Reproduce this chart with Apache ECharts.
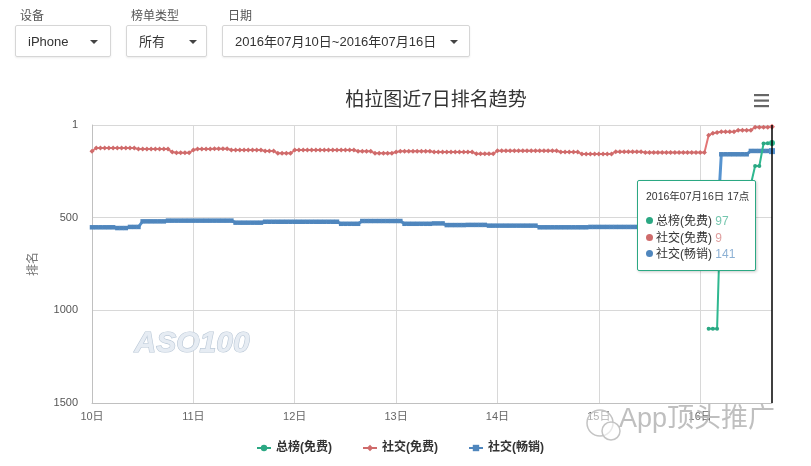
<!DOCTYPE html>
<html><head><meta charset="utf-8">
<script src="https://cdn.jsdelivr.net/npm/echarts@6/dist/echarts.min.js"></script>
<style>
html,body{margin:0;padding:0;background:#fff;}
#wrap{position:relative;width:811px;height:466px;overflow:hidden;font-family:"Liberation Sans","Noto Sans CJK SC",sans-serif;}
#chart{position:absolute;left:0;top:0;width:811px;height:466px;}
.lbl{position:absolute;font-size:12px;color:#555;top:6px;}
.box{position:absolute;top:25px;height:32px;border:1px solid #d6d6d6;border-radius:2px;box-shadow:0 1px 2px rgba(0,0,0,0.08);background:#fff;font-size:13px;color:#333;line-height:32px;box-sizing:border-box;}
.box span{position:absolute;left:12px;top:0;}
.caret{position:absolute;top:14px;width:0;height:0;border-left:4px solid transparent;border-right:4px solid transparent;border-top:4px solid #444;}
</style></head>
<body>
<div id="wrap">
<div id="chart"></div>
<div class="lbl" style="left:20px">设备</div>
<div class="lbl" style="left:131px">榜单类型</div>
<div class="lbl" style="left:228px">日期</div>
<div class="box" style="left:15px;width:96px"><span>iPhone</span><i class="caret" style="left:74px"></i></div>
<div class="box" style="left:126px;width:81px"><span>所有</span><i class="caret" style="left:62px"></i></div>
<div class="box" style="left:222px;width:248px"><span>2016年07月10日~2016年07月16日</span><i class="caret" style="left:227px"></i></div>
</div>
<script>
const chartTitle = '柏拉图近7日排名趋势';
const dates = ['2016年07月10日','2016年07月11日','2016年07月12日','2016年07月13日','2016年07月14日','2016年07月15日','2016年07月16日'];
const lastHour = 17;
const seriesNames = ['总榜(免费)','社交(免费)','社交(畅销)'];
const yTicks = [0, 500, 1000, 1500];

// 总榜(免费) hourly rank
const totalFree = [
null,null,null,null,null,null,null,null,null,null,null,null,null,null,null,null,null,null,null,null,null,null,null,null,
null,null,null,null,null,null,null,null,null,null,null,null,null,null,null,null,null,null,null,null,null,null,null,null,
null,null,null,null,null,null,null,null,null,null,null,null,null,null,null,null,null,null,null,null,null,null,null,null,
null,null,null,null,null,null,null,null,null,null,null,null,null,null,null,null,null,null,null,null,null,null,null,null,
null,null,null,null,null,null,null,null,null,null,null,null,null,null,null,null,null,null,null,null,null,null,null,null,
null,null,null,null,null,null,null,null,null,null,null,null,null,null,null,null,null,null,null,null,null,null,null,null,
null,null,1100,1100,1100,320,320,320,320,320,320,320,320,221,221,100,98,97
];
// 社交(免费) hourly rank
const socialFree = [
142,124,124,124,124,124,124,124,124,124,124,130,130,130,130,130,130,130,130,146,150,150,150,150,
135,130,130,130,130,128,128,128,128,135,135,135,135,135,135,135,135,140,140,140,153,153,153,153,
135,135,135,135,135,135,135,135,135,135,135,135,135,135,135,142,142,142,142,152,152,152,152,152,
146,142,142,142,142,142,142,142,142,146,146,146,146,146,146,146,146,146,146,155,155,155,155,155,
139,139,139,139,139,139,139,139,139,139,139,139,139,139,139,146,146,146,146,146,156,156,156,156,
156,156,156,156,144,144,144,144,144,144,144,149,149,149,149,149,149,149,149,149,149,149,149,149,
149,149,55,45,40,36,36,36,36,28,28,28,28,12,12,12,12,9
];
// 社交(畅销) hourly rank
const socialGrossing = [
552,552,552,552,552,552,556,556,556,550,550,550,520,520,520,520,520,520,516,516,516,516,516,516,
516,516,516,516,516,516,516,516,516,516,527,527,527,527,527,527,527,522,522,522,522,522,522,522,
522,522,522,522,522,522,522,522,522,522,522,533,533,533,533,533,518,518,518,518,518,518,518,518,
518,518,533,533,533,533,533,533,533,531,531,531,540,540,540,540,540,539,539,539,539,539,543,543,
543,543,543,543,543,543,543,543,543,543,552,552,552,552,552,552,552,552,552,552,552,552,550,550,
550,550,550,550,550,550,550,550,550,550,553,553,553,553,553,553,553,553,553,553,553,553,553,553,
553,553,553,553,553,158,158,158,158,158,158,158,140,140,140,140,140,141
];

const categories = [];
dates.forEach((d, i) => {
  const maxH = i === dates.length - 1 ? lastHour : 23;
  for (let h = 0; h <= maxH; h++) categories.push(d + ' ' + h + '点');
});

const colors = ['#2ba883', '#cf6b6b', '#4f86bd'];
const font = '"Liberation Sans","Noto Sans CJK SC",sans-serif';

const chart = echarts.init(document.getElementById('chart'));
chart.setOption({
  animation: false,
  backgroundColor: '#fff',
  color: colors,
  textStyle: { fontFamily: font },
  title: {
    text: chartTitle, left: 431, top: 86, textAlign: 'center',
    textStyle: { fontSize: 19, fontWeight: 'normal', color: '#333', fontFamily: font }
  },
  grid: { left: 92, right: 39, top: 125, bottom: 63 },
  legend: {
    data: seriesNames, bottom: 7, left: 251, itemWidth: 14, itemHeight: 8, itemGap: 30,
    textStyle: { fontSize: 12, fontWeight: 'bold', color: '#333' }
  },
  tooltip: {
    trigger: 'axis', alwaysShowContent: true, transitionDuration: 0,
    position: [637, 180],
    backgroundColor: '#fff', borderColor: '#2ba883', borderWidth: 1, padding: [8, 8, 7, 8],
    extraCssText: 'width:101px;box-shadow:1px 1px 3px rgba(0,0,0,0.2);border-radius:2px;',
    axisPointer: { type: 'line', lineStyle: { color: '#000', width: 1.5, type: 'solid' }, label: { show: false } },
    formatter: params => {
      let s = '<div style="font-size:10.5px;line-height:15px;color:#333;margin-bottom:9px;white-space:nowrap">' + categories[params[0].dataIndex] + '</div>';
      params.forEach(p => {
        const v = p.value == null ? '' : p.value;
        s += '<div style="font-size:12px;line-height:16.5px;color:#333;white-space:nowrap"><span style="display:inline-block;width:7px;height:7px;border-radius:50%;background:' + p.color + ';margin:0 3px 0 0;vertical-align:1px"></span>' + p.seriesName + ' <span style="color:' + p.color + ';opacity:0.65">' + v + '</span></div>';
      });
      return s;
    }
  },
  xAxis: {
    type: 'category', data: categories, boundaryGap: false,
    axisLine: { onZero: false, lineStyle: { color: '#c0c0c0' } },
    axisTick: { show: false },
    axisLabel: {
      interval: i => i % 24 === 0, margin: 8, fontSize: 11, color: '#666',
      formatter: v => v.slice(8, 11)
    },
    splitLine: { show: true, interval: i => i % 24 === 0, lineStyle: { color: '#d8d8d8' } }
  },
  yAxis: {
    type: 'value', inverse: true, min: yTicks[0], max: yTicks[yTicks.length - 1], interval: 500,
    name: '排名', nameLocation: 'middle', nameGap: 52, nameRotate: 90,
    nameTextStyle: { fontSize: 12, color: '#777' },
    axisLine: { show: true, lineStyle: { color: '#c0c0c0' } },
    axisTick: { show: false },
    axisLabel: { margin: 14, fontSize: 11, color: '#555', formatter: v => v === 0 ? '1' : String(v) },
    splitLine: { lineStyle: { color: '#d8d8d8' } }
  },
  series: [
    { name: seriesNames[0], type: 'line', data: totalFree, symbol: 'circle', symbolSize: 4, showAllSymbol: true,
      lineStyle: { width: 2 }, z: 4 },
    { name: seriesNames[1], type: 'line', data: socialFree, symbol: 'diamond', symbolSize: 5, showAllSymbol: true,
      lineStyle: { width: 2 }, z: 3 },
    { name: seriesNames[2], type: 'line', data: socialGrossing, symbol: 'rect', symbolSize: 4.5, showAllSymbol: true,
      lineStyle: { width: 3 }, z: 2 }
  ],
  graphic: [
    { type: 'rect', left: 754, top: 94, shape: { width: 15, height: 2.2 }, style: { fill: '#666' }, z: 10 },
    { type: 'rect', left: 754, top: 99.5, shape: { width: 15, height: 2.2 }, style: { fill: '#666' }, z: 10 },
    { type: 'rect', left: 754, top: 105, shape: { width: 15, height: 2.2 }, style: { fill: '#666' }, z: 10 },
    { type: 'text', left: 134, top: 328, z: 1, silent: true,
      style: { text: 'ASO100', font: 'italic bold 30px "Liberation Sans", sans-serif', fill: '#e6ecf3', stroke: '#b9c7d6', lineWidth: 1.2 } },
    { type: 'circle', shape: { cx: 600, cy: 423, r: 13 }, z: 20, silent: true,
      style: { fill: 'rgba(255,255,255,0.5)', stroke: '#c4c4c4', lineWidth: 1.5 } },
    { type: 'circle', shape: { cx: 611, cy: 431, r: 9 }, z: 20, silent: true,
      style: { fill: 'rgba(255,255,255,0.6)', stroke: '#c4c4c4', lineWidth: 1.5 } },
    { type: 'text', left: 619, top: 406, z: 20, silent: true,
      style: { text: 'App顶头推广', font: '27px "Liberation Sans","Noto Sans CJK SC",sans-serif', fill: 'rgba(180,180,180,0.85)' } }
  ]
});
chart.dispatchAction({ type: 'showTip', seriesIndex: 0, dataIndex: categories.length - 1 });
</script>
</body></html>
